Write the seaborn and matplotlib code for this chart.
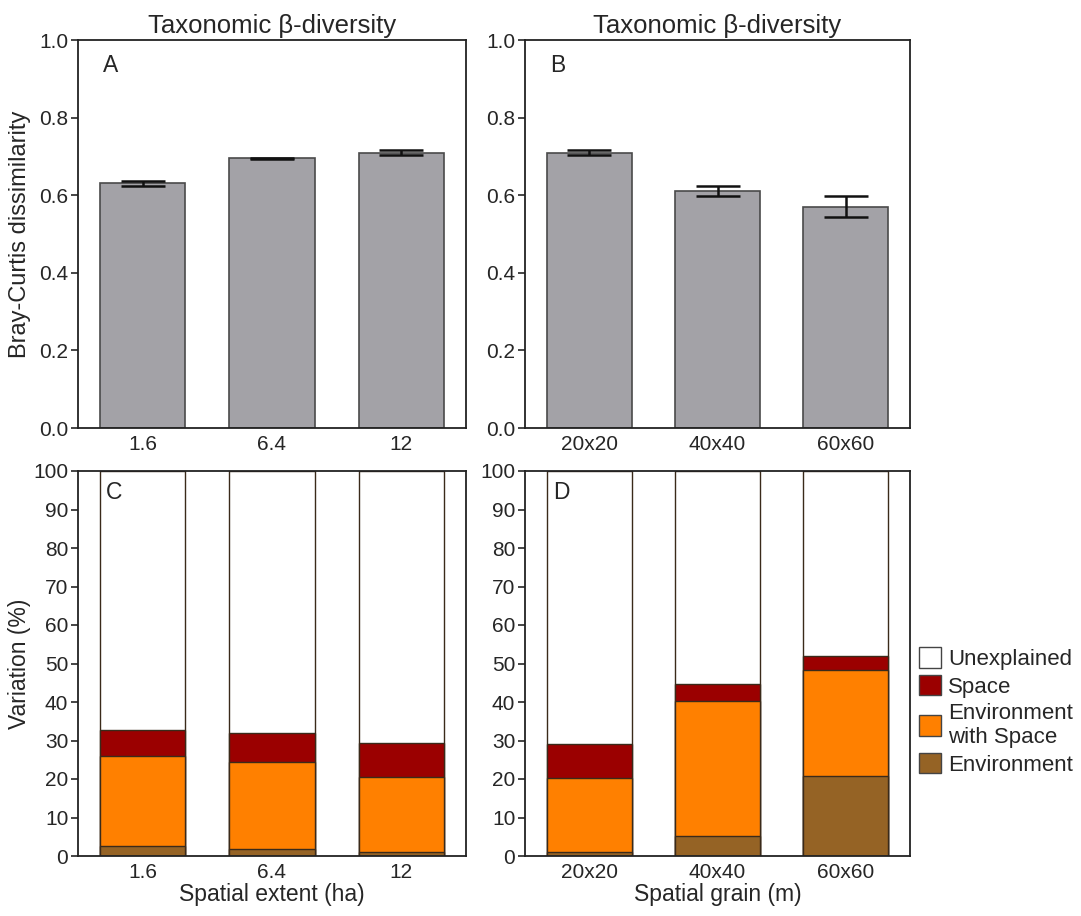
import numpy as np
import pandas as pd
import matplotlib
matplotlib.use("Agg")
import matplotlib.pyplot as plt
import seaborn as sns
from matplotlib.patches import Patch

# ---------------- data ----------------
extent_labels = ["1.6", "6.4", "12"]
grain_labels = ["20x20", "40x40", "60x60"]

bc_extent = [0.631, 0.695, 0.710]
bc_extent_err = [0.006, 0.002, 0.007]
bc_grain = [0.710, 0.611, 0.570]
bc_grain_err = [0.007, 0.013, 0.027]

# variation partitioning (%), components
env_extent = [2.7, 1.8, 1.0]
envspace_extent = [23.3, 22.6, 19.5]
space_extent = [6.7, 7.6, 8.9]

env_grain = [1.0, 5.3, 20.8]
envspace_grain = [19.3, 35.0, 27.5]
space_grain = [8.8, 4.4, 3.6]

layer_names = ["Unexplained", "Space", "Environment\nwith Space", "Environment"]
layer_colors = ["#ffffff", "#9b0000", "#ff8000", "#956325"]

# ---------------- style ----------------
sns.set_style("ticks")
plt.rcParams["font.family"] = ["Liberation Sans", "DejaVu Sans"]
plt.rcParams["font.size"] = 14.5
plt.rcParams["axes.linewidth"] = 1.3
plt.rcParams["xtick.major.size"] = 0
plt.rcParams["ytick.major.size"] = 5
plt.rcParams["ytick.major.width"] = 1.2

TICK_FS = 15
W, H = 1081, 916
fig = plt.figure(figsize=(W / 100, H / 100), dpi=100)


def ax_px(l, r, t, b):
    return fig.add_axes([l / W, 1 - b / H, (r - l) / W, (b - t) / H])


axA = ax_px(78, 466, 40, 428)
axB = ax_px(525, 910, 40, 428)
axC = ax_px(78, 466, 471, 856)
axD = ax_px(525, 910, 471, 856)

bar_gray = "#a3a2a7"


def top_panel(ax, labels, vals, errs, letter):
    df = pd.DataFrame({"cat": labels, "val": vals})
    sns.barplot(data=df, x="cat", y="val", color=bar_gray, edgecolor="#4a4a4a",
                linewidth=1.2, width=0.66, saturation=1, ax=ax, errorbar=None)
    ax.errorbar(np.arange(len(labels)), vals, yerr=errs, fmt="none",
                ecolor="#111111", elinewidth=1.8, capsize=15.5, capthick=1.8)
    ax.set_ylim(0, 1.0)
    ax.set_yticks(np.arange(0, 1.01, 0.2))
    ax.set_yticklabels([f"{v:.1f}" for v in np.arange(0, 1.01, 0.2)])
    ax.set_xlim(-0.5, 2.5)
    ax.set_xlabel("")
    ax.set_ylabel("")
    ax.set_title("Taxonomic \u03b2-diversity", fontsize=18.5, pad=5)
    ax.text(0.065, 0.935, letter, transform=ax.transAxes, fontsize=16.5,
            ha="left", va="center")
    ax.tick_params(axis="x", pad=5, labelsize=TICK_FS)
    ax.tick_params(axis="y", labelsize=TICK_FS, pad=2)


def bottom_panel(ax, labels, env, envspace, space, letter, xlabel):
    env = np.array(env)
    c1 = env
    c2 = c1 + np.array(envspace)
    c3 = c2 + np.array(space)
    c4 = np.full(len(labels), 100.0)
    cums = [c4, c3, c2, c1]
    for cum, col in zip(cums, layer_colors):
        df = pd.DataFrame({"cat": labels, "val": cum})
        sns.barplot(data=df, x="cat", y="val", color=col, edgecolor="#3a2a1a",
                    linewidth=1.0, width=0.66, saturation=1, ax=ax, errorbar=None)
    ax.set_ylim(0, 100)
    ax.set_yticks(np.arange(0, 101, 10))
    ax.set_xlim(-0.5, 2.5)
    ax.set_xlabel(xlabel, fontsize=16.5, labelpad=1)
    ax.set_ylabel("")
    ax.text(0.072, 0.943, letter, transform=ax.transAxes, fontsize=16.5,
            ha="left", va="center")
    ax.tick_params(axis="x", pad=5, labelsize=TICK_FS)
    ax.tick_params(axis="y", labelsize=TICK_FS, pad=2)


top_panel(axA, extent_labels, bc_extent, bc_extent_err, "A")
top_panel(axB, grain_labels, bc_grain, bc_grain_err, "B")
bottom_panel(axC, extent_labels, env_extent, envspace_extent, space_extent, "C",
             "Spatial extent (ha)")
bottom_panel(axD, grain_labels, env_grain, envspace_grain, space_grain, "D",
             "Spatial grain (m)")

axA.set_ylabel("Bray-Curtis dissimilarity", fontsize=17)
axA.yaxis.set_label_coords(-0.122, 0.5)
axC.set_ylabel("Variation (%)", fontsize=16.5)
axC.yaxis.set_label_coords(-0.122, 0.5)

for ax in (axA, axB, axC, axD):
    for s in ax.spines.values():
        s.set_color("#222222")

handles = [Patch(facecolor=c, edgecolor="#444444", linewidth=1.0) for c in layer_colors]
fig.legend(handles, layer_names, loc="upper left",
           bbox_to_anchor=(919 / W, 1 - 647 / H), frameon=False, fontsize=16,
           handlelength=1.0, handleheight=1.05, handletextpad=0.3,
           labelspacing=0.22, borderpad=0, borderaxespad=0)

fig.savefig("out.png", dpi=100)
